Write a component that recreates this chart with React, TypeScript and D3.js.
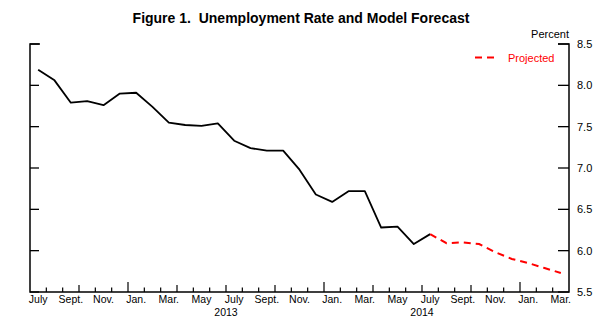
import React from "react";
import * as d3 from "d3";

const monthNames = ["July","Aug.","Sept.","Oct.","Nov.","Dec.","Jan.","Feb.","Mar.","Apr.","May","June"];
const tickLabelMonths = ["July","Sept.","Nov.","Jan.","Mar.","May"];
const years = [{ label: "2013", at: 12 }, { label: "2014", at: 24 }];
const startIndex = 0; // July 2012
const monthCount = 33; // July 2012 .. March 2015 (axis ends at April 2015)
const actual = [8.19, 8.06, 7.79, 7.81, 7.76, 7.9, 7.91, 7.74, 7.55, 7.52, 7.51, 7.54, 7.33, 7.24, 7.21, 7.21, 6.98, 6.68, 6.59, 6.72, 6.72, 6.28, 6.29, 6.08, 6.2];
const projectedStart = 24;
const projected = [6.2, 6.09, 6.1, 6.08, 5.98, 5.9, 5.85, 5.79, 5.73];
const yTicks = [5.5, 6.0, 6.5, 7.0, 7.5, 8.0, 8.5];

const W = 600, H = 325;
const left = 30, right = 569, top = 44, bottom = 292;
const font = "'Liberation Sans', Arial, Helvetica, sans-serif";

export default function App() {
  const x = d3.scaleLinear().domain([0, monthCount]).range([left, right]);
  const y = d3.scaleLinear().domain([5.5, 8.5]).range([bottom, top]);
  const line = d3.line<[number, number]>().x(d => x(d[0] + 0.5)).y(d => y(d[1]));
  const actualPts: [number, number][] = actual.map((v, i) => [i, v]);
  const projPts: [number, number][] = projected.map((v, i) => [projectedStart + i, v]);
  const ticks = d3.range(1, monthCount);
  return (
    <div style={{ position: "absolute", left: 0, top: 0 }}>
      <svg width={W} height={H} style={{ display: "block", background: "#fff" }} fontFamily={font}>
        <text x={301} y={23} textAnchor="middle" fontWeight="bold" fontSize={14} fill="#000" style={{ whiteSpace: "pre" }}>
          {"Figure 1.  Unemployment Rate and Model Forecast"}
        </text>
        {/* axes */}
        <path d={`M${left + 10},${top}H${left}V${bottom}H${right}V${top}H${right - 11}`} fill="none" stroke="#000" strokeWidth={1.5} />
        {yTicks.map(t => (
          <g key={t}>
            <line x1={left} x2={left + 9} y1={y(t)} y2={y(t)} stroke="#000" strokeWidth={1.3} />
            <line x1={right - 11} x2={right} y1={y(t)} y2={y(t)} stroke="#000" strokeWidth={1.3} />
            <text x={577} y={y(t) + 4} fontSize={11} fill="#000">{t.toFixed(1)}</text>
          </g>
        ))}
        <text x={569} y={38} textAnchor="end" fontSize={11} fill="#000">Percent</text>
        {ticks.map(i => {
          const m = (startIndex + i) % 12;
          const len = m === 6 ? 10 : m % 3 === 0 ? 7 : 4.5;
          return <line key={i} x1={x(i)} x2={x(i)} y1={bottom} y2={bottom - len} stroke="#000" strokeWidth={1.2} />;
        })}
        {d3.range(0, monthCount).filter(i => tickLabelMonths.includes(monthNames[(startIndex + i) % 12])).map(i => (
          <text key={i} x={x(i + 0.5)} y={303} textAnchor="middle" fontSize={10.5} fill="#000">{monthNames[(startIndex + i) % 12]}</text>
        ))}
        {years.map(yr => (
          <text key={yr.label} x={x(yr.at)} y={316} textAnchor="middle" fontSize={10.5} fill="#000">{yr.label}</text>
        ))}
        <path d={line(actualPts) || ""} fill="none" stroke="#000" strokeWidth={1.8} strokeLinejoin="round" />
        <path d={line(projPts) || ""} fill="none" stroke="#ff0000" strokeWidth={2} strokeDasharray="7,5" />
        <line x1={475} x2={495} y1={57.5} y2={57.5} stroke="#ff0000" strokeWidth={2} strokeDasharray="7,5" />
        <text x={508} y={61.5} fontSize={11} fill="#ff0000">Projected</text>
      </svg>
    </div>
  );
}
